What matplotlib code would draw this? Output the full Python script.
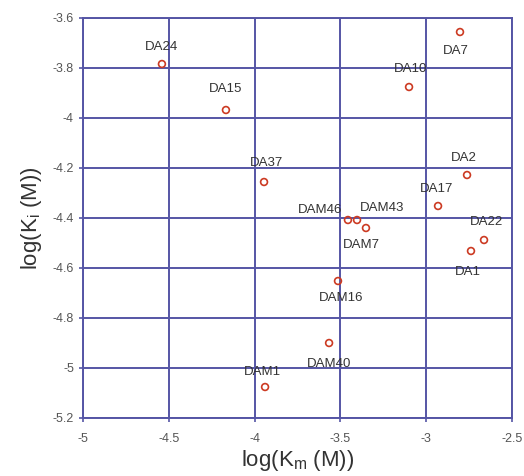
import numpy as np
import matplotlib.pyplot as plt
from matplotlib.ticker import FuncFormatter

plt.rcParams['font.family'] = ['Liberation Sans', 'DejaVu Sans']

# Data ----------------------------------------------------------------
names = ["DA24", "DA15", "DA7", "DA10", "DA37", "DA2", "DA17", "DAM46",
         "DAM43", "DAM7", "DA22", "DA1", "DAM16", "DAM40", "DAM1"]
log_km = [-4.54, -4.167, -2.803, -3.10, -3.945, -2.762, -2.931, -3.456,
          -3.403, -3.351, -2.663, -2.739, -3.514, -3.566, -3.939]
log_ki = [-3.784, -3.968, -3.656, -3.876, -4.256, -4.228, -4.352, -4.408,
          -4.408, -4.44, -4.488, -4.532, -4.652, -4.90, -5.076]

# label offsets in points (dx, dy)
offsets = [(0, 12), (0, 15), (-3, -14), (1, 13), (2, 14), (-2, 12), (-1, 12),
           (-20, 7), (18, 9), (-3, -12), (2, 13), (-2, -15), (2, -12), (0, -15), (-2, 11)]

fig = plt.figure(figsize=(5.24, 4.76), dpi=100)
ax = fig.add_axes([83/524, 1 - 418/476, 429/524, 400/476])

grid_col = '#5555a5'
ax.set_xlim(-5, -2.5)
ax.set_ylim(-5.2, -3.6)
ax.set_xticks(np.arange(-5, -2.49, 0.5))
ax.set_yticks(np.arange(-5.2, -3.59, 0.2))
ax.grid(True, color=grid_col, lw=1.4)
ax.set_axisbelow(True)
for s in ax.spines.values():
    s.set_color(grid_col)
    s.set_linewidth(1.4)

fmt = FuncFormatter(lambda v, p: '%g' % round(v, 2))
ax.xaxis.set_major_formatter(fmt)
ax.yaxis.set_major_formatter(fmt)
ax.tick_params(colors=grid_col, labelcolor='#555555', labelsize=9, length=3, width=1.2)
ax.tick_params(axis='x', pad=8)

ax.scatter(log_km, log_ki, s=24, facecolors='none', edgecolors='#cc3a22', linewidths=1.2, zorder=3)

for n, x, y, (dx, dy) in zip(names, log_km, log_ki, offsets):
    ax.annotate(n, (x, y), xytext=(dx, dy), textcoords='offset points',
                ha='center', va='center', fontsize=9.5, color='#333333')

ax.set_xlabel("log(K$_\\mathregular{m}$ (M))", fontsize=16, color='#333333', labelpad=2)
ax.set_ylabel("log(K$_\\mathregular{i}$ (M))", fontsize=16, color='#333333', labelpad=6)

fig.savefig("out.png", dpi=100)
